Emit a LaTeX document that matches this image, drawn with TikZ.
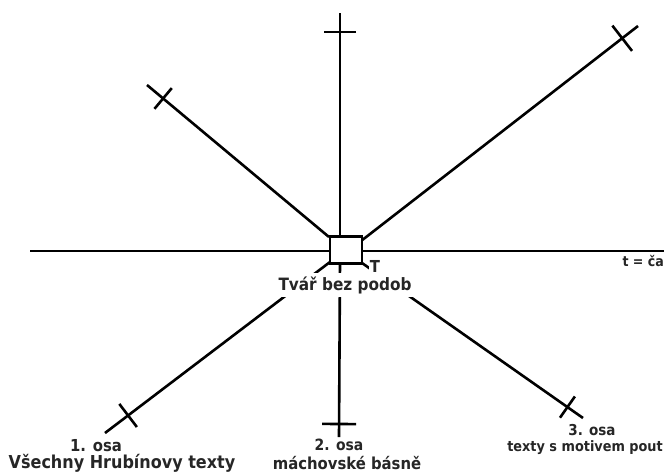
\documentclass[tikz,border=0pt]{standalone}
\usepackage{fontspec}
\setmainfont{DejaVu Sans Condensed}
\usetikzlibrary{calc,decorations.markings}
\newcommand{\fsz}[1]{\fontsize{#1}{#1}\selectfont}
\tikzset{
  axisline/.style={line width=2.6pt, line cap=butt},
  tick/.style 2 args={postaction={decorate, decoration={markings,
      mark=at position #1 with {\draw[line width=2.6pt] (0,-#2) -- (0,#2);}}}},
  lbl/.style={font=\bfseries, text=black!85, inner sep=0pt},
  cover/.style={fill=white, inner sep=3pt},
  origin/.style={draw, line width=2.6pt, fill=white, minimum width=32pt, minimum height=27pt, inner sep=0pt}
}
\begin{document}
\begin{tikzpicture}[x=1pt, y=-1pt]
  \useasboundingbox (0,0) rectangle (664,472);

  % axis end points
  \coordinate (hl) at (30,251);
  \coordinate (hr) at (664,251);
  \coordinate (vt) at (340,13);
  \coordinate (vb) at (339,437);
  \coordinate (ul) at (147,85);
  \coordinate (ur) at (638,26);
  \coordinate (ll) at (105,433);
  \coordinate (lr) at (583,418);

  % time axis
  \draw[axisline] (hl) -- (hr);

  % upper axes
  \draw[axisline, tick={-19pt}{16pt}] (340,237) -- (vt);
  \draw[axisline, tick={-21pt}{13.5pt}] (329,237) -- (ul);
  \draw[axisline, tick={-20pt}{16pt}] (361,241) -- (ur);

  % lower axes
  \draw[axisline, tick={-13pt}{17pt}] (340,262) -- (vb);
  \draw[axisline, tick={-29pt}{14.5pt}] (330,262) -- (ll);
  \draw[axisline, tick={-19pt}{13pt}] (362,263) -- (lr);

  % central square
  \node[origin] (box) at (346,250) {};

  % labels near the origin
  \node[lbl, cover, font=\bfseries\fsz{17}] (face) at (345,285) {Tvář bez podob};
  \node[lbl, cover, inner sep=1pt, font=\bfseries\fsz{16.5}] (tlab) at (375,266) {T};
  \node[lbl, anchor=east, font=\bfseries\fsz{14}] (time) at (664,261) {t = ča};

  % axis captions
  \node[lbl, font=\bfseries\fsz{16.5}] (a1) at (96,446) {1. osa};
  \node[lbl, font=\bfseries\fsz{17.8}] (a1t) at (122,463) {Všechny Hrubínovy texty};
  \node[lbl, font=\bfseries\fsz{15.5}] (a2) at (339,445) {2. osa};
  \node[lbl, font=\bfseries\fsz{16.5}] (a2t) at (347,463) {máchovské básně};
  \node[lbl, font=\bfseries\fsz{15}] (a3) at (592,430) {3. osa};
  \node[lbl, anchor=east, font=\bfseries\fsz{14.3}] (a3t) at (663,448) {texty s motivem pout};
\end{tikzpicture}
\end{document}
